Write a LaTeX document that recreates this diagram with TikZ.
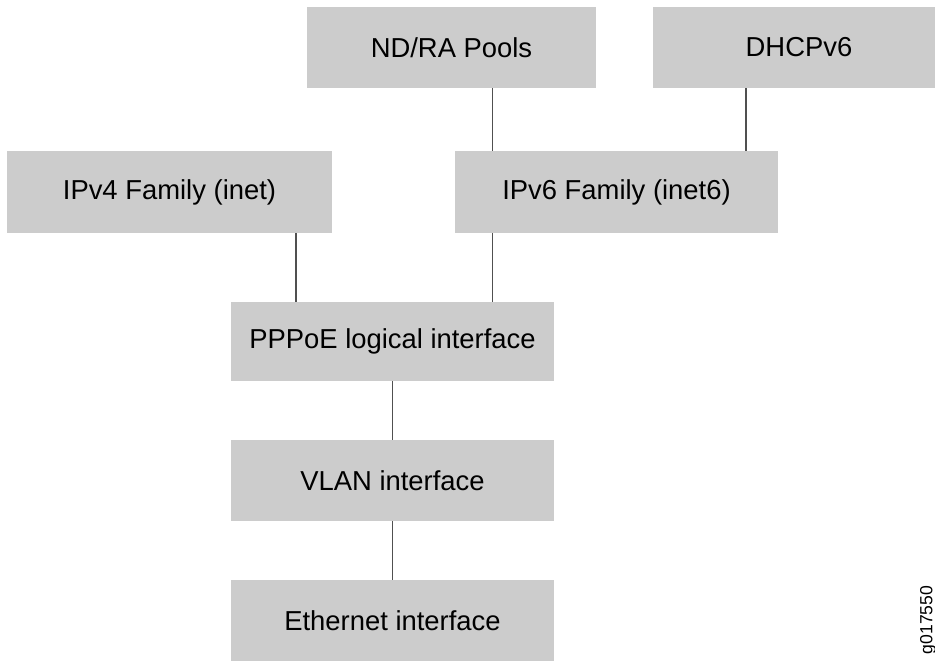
\documentclass[tikz,border=0pt]{standalone}
\usepackage{fontspec}
\setmainfont{Liberation Sans}
\definecolor{boxgray}{HTML}{CCCCCC}
\definecolor{linkgray}{HTML}{505050}
\tikzset{
  layer/.style={fill=boxgray, inner sep=0pt, minimum width=6.46cm, minimum height=1.62cm,
    font=\fontsize{15.6}{18}\selectfont},
  link/.style={draw=linkgray, line width=0.8pt}
}
\begin{document}
\begin{tikzpicture}[x=0.02cm,y=-0.02cm]
  \useasboundingbox (0,0) rectangle (935,662);
  %% upper services
  \node[layer, minimum width=5.78cm] (ndra) at (451.5,47.5) {ND/RA Pools};
  \node[layer, minimum width=5.84cm] (dhcp) at (799,47.5) {DHCPv6};
  %% address families
  \node[layer, minimum width=6.5cm, minimum height=1.64cm] (ipv4) at (169.5,192) {IPv4 Family (inet)};
  \node[layer, minimum height=1.64cm] (ipv6) at (616.5,192) {IPv6 Family (inet6)};
  %% interface stack
  \node[layer, minimum height=1.58cm] (pppoe) at (392.5,341.5) {PPPoE logical interface};
  \node[layer] (vlan) at (392.5,480.5) {VLAN interface};
  \node[layer] (eth) at (392.5,620.5) {Ethernet interface};
  %% figure id
  \node[rotate=90, font=\fontsize{10}{12}\selectfont, inner sep=0pt] (figid) at (928,620) {g017550};
  %% connectors
  \coordinate (v4x) at (296,0);
  \coordinate (v6x) at (492.5,0);
  \coordinate (dhx) at (746,0);
  \draw[link] (ndra.south -| v6x) -- (ipv6.north -| v6x);
  \draw[link] (dhcp.south -| dhx) -- (ipv6.north -| dhx);
  \draw[link] (ipv4.south -| v4x) -- (pppoe.north -| v4x);
  \draw[link] (ipv6.south -| v6x) -- (pppoe.north -| v6x);
  \draw[link] (pppoe) -- (vlan);
  \draw[link] (vlan) -- (eth);
\end{tikzpicture}
\end{document}
